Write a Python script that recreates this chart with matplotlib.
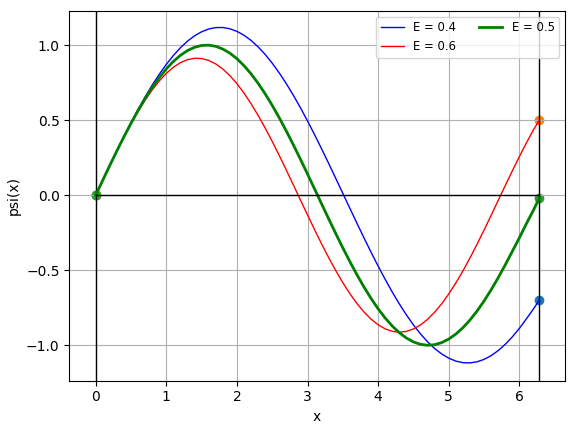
import numpy as np
import matplotlib
matplotlib.use("Agg")
import matplotlib.pyplot as plt

# x grid of the solution (step 0.1, last point at 2*pi)
x = [round(0.1*i, 1) for i in range(63)] + [6.2832]

# psi(x) values
psi_04 = [0.0, 0.0998, 0.1989, 0.2964, 0.3915, 0.4834, 0.5716, 0.6551, 0.7335, 0.8059,
          0.8718, 0.9308, 0.9825, 1.0263, 1.0618, 1.0887, 1.1072, 1.1167, 1.1171, 1.1087,
          1.0915, 1.0656, 1.0311, 0.9883, 0.9378, 0.8795, 0.8145, 0.7428, 0.6651, 0.5823,
          0.4946, 0.4032, 0.3083, 0.2112, 0.1121, 0.0124, -0.0874, -0.1867, -0.2844, -0.3799,
          -0.4722, -0.5609, -0.6451, -0.7238, -0.7972, -0.8640, -0.9240, -0.9763, -1.0212, -1.0577,
          -1.0858, -1.1053, -1.1159, -1.1176, -1.1103, -1.0942, -1.0693, -1.0358, -0.9941, -0.9445,
          -0.8880, -0.8240, -0.7580, -0.7000]

psi_06 = [0.0, 0.0998, 0.1984, 0.2946, 0.3873, 0.4753, 0.5577, 0.6334, 0.7015, 0.7611,
          0.8117, 0.8525, 0.8830, 0.9031, 0.9123, 0.9105, 0.8978, 0.8744, 0.8405, 0.7965,
          0.7429, 0.6806, 0.6098, 0.5319, 0.4477, 0.3580, 0.2640, 0.1670, 0.0677, -0.0321,
          -0.1316, -0.2297, -0.3248, -0.4162, -0.5025, -0.5828, -0.6562, -0.7216, -0.7783, -0.8260,
          -0.8634, -0.8906, -0.9072, -0.9129, -0.9076, -0.8914, -0.8646, -0.8275, -0.7802, -0.7237,
          -0.6586, -0.5855, -0.5056, -0.4194, -0.3283, -0.2331, -0.1352, -0.0357, 0.0630, 0.1610,
          0.2560, 0.3480, 0.4350, 0.5000]

psi_05 = [0.0, 0.0998, 0.1987, 0.2955, 0.3894, 0.4794, 0.5646, 0.6442, 0.7174, 0.7833,
          0.8415, 0.8912, 0.9320, 0.9636, 0.9854, 0.9975, 0.9996, 0.9917, 0.9738, 0.9463,
          0.9093, 0.8632, 0.8085, 0.7457, 0.6755, 0.5985, 0.5155, 0.4274, 0.3350, 0.2392,
          0.1411, 0.0416, -0.0584, -0.1577, -0.2555, -0.3508, -0.4425, -0.5298, -0.6119, -0.6878,
          -0.7568, -0.8183, -0.8716, -0.9162, -0.9516, -0.9775, -0.9937, -0.9999, -0.9962, -0.9825,
          -0.9589, -0.9258, -0.8835, -0.8323, -0.7728, -0.7055, -0.6313, -0.5507, -0.4650, -0.3750,
          -0.2850, -0.1900, -0.1000, -0.0200]

L = 2*np.pi

fig = plt.figure(figsize=(5.7, 4.29), dpi=100)
ax = fig.add_subplot(111)

ax.axvline(0, color='k', linewidth=1)
ax.axvline(L, color='k', linewidth=1)

ax.plot(x, psi_04, color='blue', linewidth=1, label='E = 0.4')
ax.scatter([x[0], x[-1]], [psi_04[0], psi_04[-1]])
ax.plot(x, psi_06, color='red', linewidth=1, label='E = 0.6')
ax.scatter([x[0], x[-1]], [psi_06[0], psi_06[-1]])
ax.plot(x, psi_05, color='green', linewidth=2, label='E = 0.5')
ax.scatter([x[0], x[-1]], [psi_05[0], psi_05[-1]])

ax.plot([0, L], [0, 0], color='k', linewidth=1)

ax.set_xlim(-0.374, 6.647)
ax.set_ylim(-1.236, 1.229)
ax.set_xlabel('x')
ax.set_ylabel('psi(x)')
ax.grid(True)
ax.legend(loc='upper right', ncol=2, fontsize='small')

plt.subplots_adjust(left=0.1216, right=0.9912, top=0.975, bottom=0.1126)
plt.savefig('out.png')
